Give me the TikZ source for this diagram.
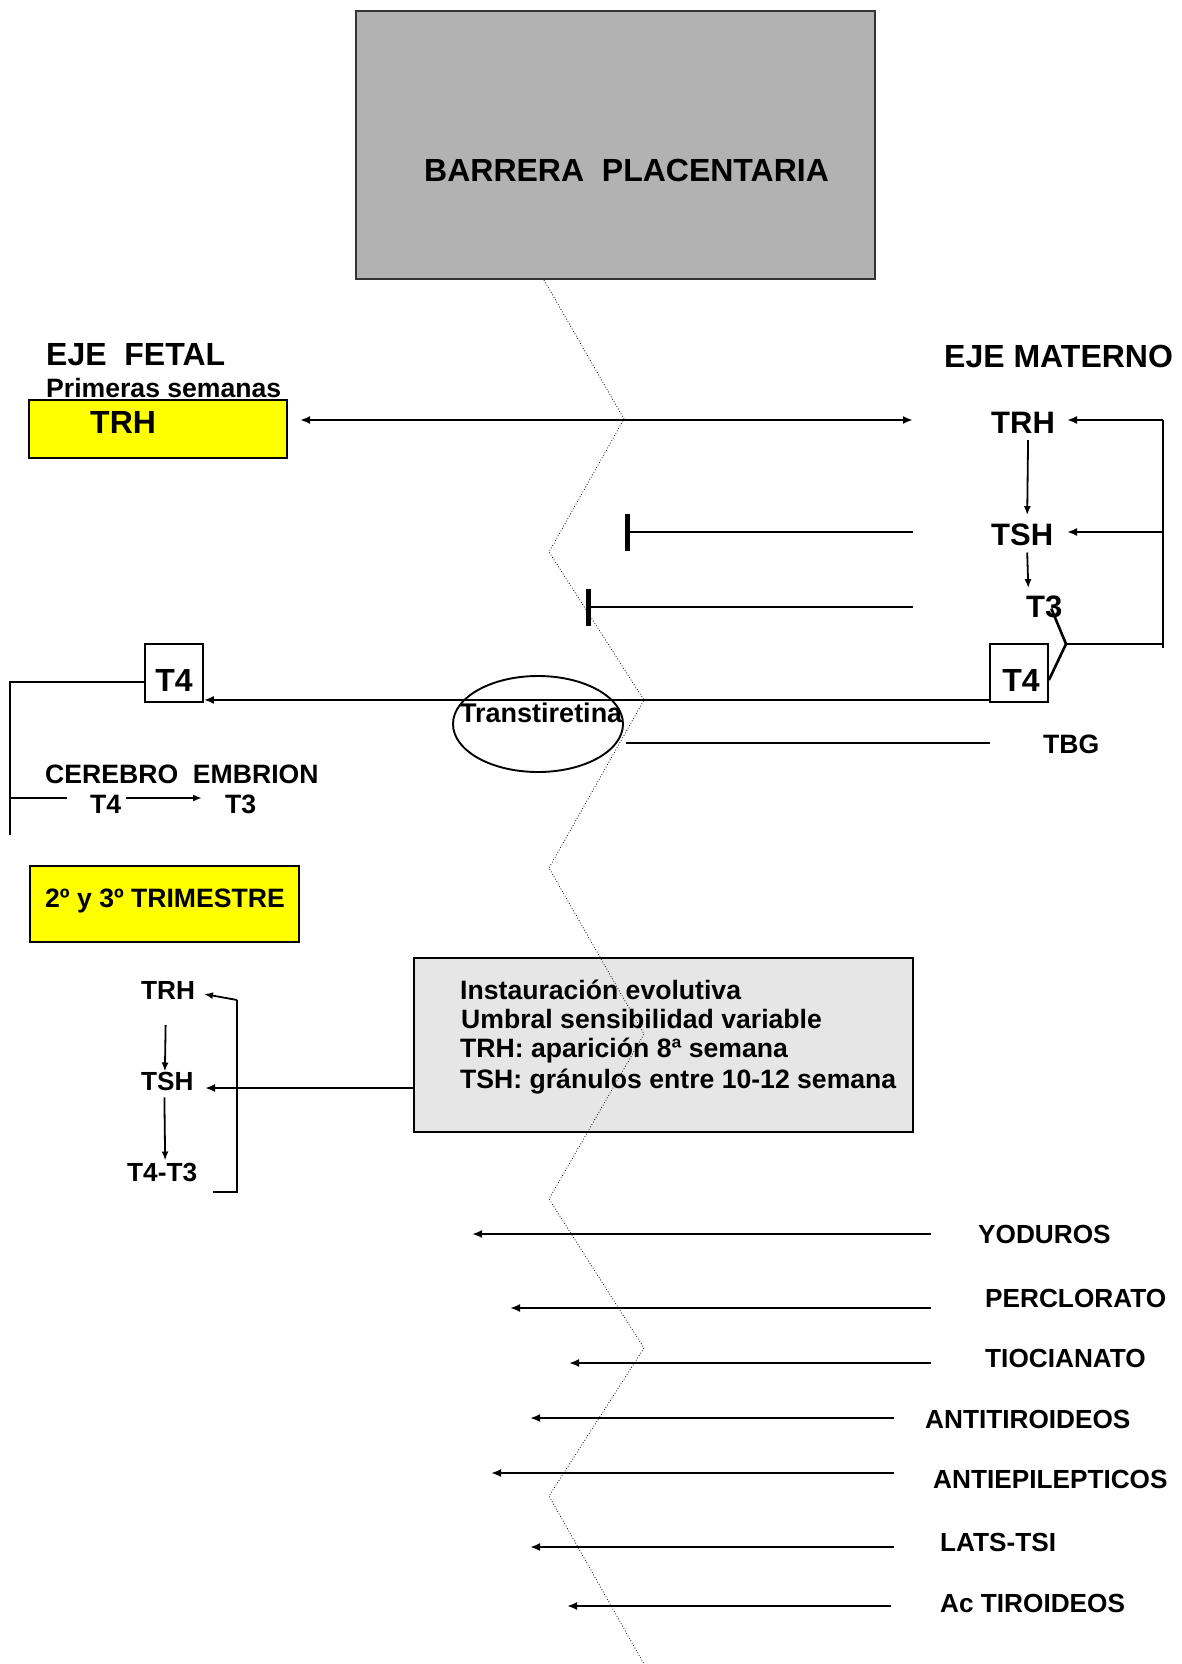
\documentclass[tikz,border=0pt]{standalone}
\usepackage{fontspec}
\setmainfont{Liberation Sans}
\usetikzlibrary{arrows.meta,shapes.geometric}
\definecolor{barrera}{HTML}{B2B2B2}
\definecolor{infogray}{HTML}{E6E6E6}
\definecolor{pureyellow}{HTML}{FFFF00}
\newcommand{\fsz}[1]{\fontsize{#1}{#1}\selectfont\bfseries}
\begin{document}
\begin{tikzpicture}[x=1pt,y=-1pt,
  txt/.style={inner sep=0pt, anchor=base west, font=\fsz{26.6}},
  drug/.style={inner sep=0pt, anchor=base west, font=\fsz{26.2}},
  big/.style={inner sep=0pt, anchor=base west, font=\fsz{32}},
  arr/.style={line width=2.6pt, -{Latex[length=10pt,width=8pt]}},
  tarr/.style={line width=1.8pt, -{Latex[length=9pt,width=7pt]}},
  ln/.style={line width=2.6pt},
  tln/.style={line width=1.8pt},
  inhib/.style={line width=2.6pt, -{Bar[width=37pt,line width=4.5pt]}},
  yellowbox/.style={draw, line width=2.4pt, fill=pureyellow, inner sep=0pt},
  smallbox/.style={draw, line width=1.8pt, fill=white, inner sep=0pt, minimum width=58pt, minimum height=58pt},
  zig/.style={dotted, line width=0.8pt, black}
]
\useasboundingbox (0,0) rectangle (1181,1664);

% ---------- boxes ----------
\node[draw=black!80, line width=1.5pt, fill=barrera, minimum width=519pt, minimum height=268pt, inner sep=0pt] (barrera) at (615.5,145) {};
\node[draw, line width=2.4pt, fill=infogray, minimum width=499pt, minimum height=174pt, inner sep=0pt] (info) at (663.5,1045) {};
\node[yellowbox, minimum width=258pt, minimum height=58pt] (trhfbox) at (158,429) {};
\node[yellowbox, minimum width=269pt, minimum height=76pt] (trimbox) at (164.5,904) {};
\node[smallbox] (t4fbox) at (174,673) {};
\node[smallbox] (t4mbox) at (1019,673) {};

% ---------- placental zigzag ----------
\coordinate (z0) at (544,280);
\coordinate (z1) at (624,419);
\coordinate (z2) at (549,552);
\coordinate (z3) at (644,700);
\coordinate (z4) at (549,868);
\coordinate (z5) at (644,1034);
\coordinate (z6) at (549,1199);
\coordinate (z7) at (644,1348);
\coordinate (z8) at (549,1496);
\coordinate (z9) at (644,1664);
\draw[zig] (z0) -- (z1) -- (z2) -- (z3) -- (z4) -- (z5) -- (z6) -- (z7) -- (z8) -- (z9);

% ---------- texts ----------
\node[inner sep=0pt, anchor=base west, font=\fsz{32}] (barreratxt) at (424,182) {BARRERA\ \ PLACENTARIA};
\node[big] (ejefetal) at (46,365) {EJE\ \ FETAL};
\node[txt] (primeras) at (46,397) {Primeras semanas};
\node[big] (trhf) at (90,433) {TRH};
\node[big] (ejemat) at (944,367) {EJE MATERNO};
\node[inner sep=0pt, anchor=base west, font=\fsz{31}] (trhm) at (991,433) {TRH};
\node[inner sep=0pt, anchor=base west, font=\fsz{31}] (tshm) at (991,545) {TSH};
\node[inner sep=0pt, anchor=base west, font=\fsz{31}] (t3m) at (1026,617) {T3};
\node[inner sep=0pt, anchor=base, font=\fsz{32}] (t4f) at (174,691) {T4};
\node[inner sep=0pt, anchor=base, font=\fsz{32}] (t4m) at (1021,691) {T4};
\node[draw, ellipse, line width=1.9pt, minimum width=170pt, minimum height=96pt, inner sep=0pt] (ttr) at (538,724) {};
\node[inner sep=0pt, anchor=base west, font=\fsz{27}] (ttrtxt) at (460,722) {Transtiretina};
\node[txt] (tbg) at (1043,753) {TBG};
\node[txt] (cerebro) at (45,783) {CEREBRO\ \ EMBRION};
\node[txt] (ct4) at (90,813) {T4};
\node[txt] (ct3) at (225,813) {T3};
\node[txt] (trim) at (45,907) {2º y 3º TRIMESTRE};
\node[drug] (trhl) at (141,999) {TRH};
\node[drug] (tshl) at (141,1090) {TSH};
\node[drug] (t43) at (127,1181) {T4-T3};
\node[txt] (info1) at (460,999) {Instauración evolutiva};
\node[txt] (info2) at (461,1028) {Umbral sensibilidad variable};
\node[txt] (info3) at (460,1057) {TRH: aparición 8ª semana};
\node[txt] (info4) at (460,1088) {TSH: gránulos entre 10-12 semana};
\node[drug] (yod) at (978,1243) {YODUROS};
\node[drug] (per) at (985,1307) {PERCLORATO};
\node[drug] (tio) at (985,1367) {TIOCIANATO};
\node[drug] (ati) at (925,1428) {ANTITIROIDEOS};
\node[drug] (aep) at (933,1488) {ANTIEPILEPTICOS};
\node[drug] (lats) at (940,1551) {LATS-TSI};
\node[drug] (act) at (940,1612) {Ac TIROIDEOS};

% ---------- first weeks ----------
\coordinate (dbl1) at (300,420);
\coordinate (dbl2) at (913,420);
\draw[line width=2.6pt, {Latex[length=10pt,width=8pt]}-{Latex[length=10pt,width=8pt]}] (dbl1) -- (dbl2);

% maternal axis
\draw[tarr] ([xshift=5pt,yshift=-7pt]trhm.south) -- ([xshift=5pt,yshift=8pt]tshm.north);
\draw[tarr] ([xshift=5pt,yshift=-7pt]tshm.south) -- ([xshift=-16pt,yshift=7pt]t3m.north);
\coordinate (fbtop) at (1163,420);
\coordinate (fbmid) at (1163,532);
\coordinate (fbbot) at (1163,648);
\coordinate (fbjoin) at (1066,644);
\coordinate (fbtrh) at (1067,420);
\coordinate (fbtsh) at (1067,532);
\draw[ln] (fbtop) -- (fbbot);
\draw[arr] (fbtop) -- (fbtrh);
\draw[arr] (fbmid) -- (fbtsh);
\draw[ln] (fbjoin) -- (fbjoin -| fbtop);
\draw[ln] (fbjoin) -- ([xshift=7pt,yshift=9pt]t3m.south);
\draw[ln] (fbjoin) -- ([yshift=-7pt]t4mbox.east);

% inhibitions
\coordinate (inh1s) at (913,532);
\coordinate (inh1) at (625,532);
\coordinate (inh2s) at (913,607);
\coordinate (inh2) at (586,607);
\draw[inhib] (inh1s) -- (inh1);
\draw[inhib] (inh2s) -- (inh2);

% T4 transfer
\draw[arr] ([yshift=3pt]t4mbox.south west) -- ([yshift=3pt]t4fbox.south east);
\coordinate (tbgs) at (990,743);
\coordinate (tbgend) at (626,743);
\draw[ln] (tbgs) -- (tbgend);

% fetal brain
\coordinate (fl) at (10,835);
\coordinate (fstub) at (10,798);
\coordinate (fstubend) at (67,798);
\draw[ln] ([yshift=-9pt]t4fbox.west) -| (fl);
\draw[ln] (fstub) -- (fstubend);
\draw[tarr] ([xshift=5pt]ct4.east |- fstub) -- ([xshift=-23pt]ct3.west |- fstub);

% second/third trimester
\draw[tarr] ([xshift=-2.5pt,yshift=-26pt]trhl.south) -- ([xshift=-2.5pt]tshl.north);
\draw[tarr] ([xshift=-3pt,yshift=-7pt]tshl.south) -- ([xshift=3pt,yshift=2pt]t43.north);
\coordinate (lbt) at (237,1000);
\coordinate (lbb) at (237,1192);
\coordinate (lbe) at (213,1192);
\coordinate (lbtip) at (204,994);
\draw[tln] (lbt) -- (lbb) -- (lbe);
\draw[tarr] (lbt) -- (lbtip);
\coordinate (infoout) at (414,1088);
\coordinate (tshtip) at (205,1088);
\draw[arr] (infoout) -- (tshtip);

% substances crossing
\coordinate (yods) at (931,1234);   \coordinate (yodt) at (472,1234);
\coordinate (pers) at (931,1308);   \coordinate (pert) at (510,1308);
\coordinate (tios) at (931,1363);   \coordinate (tiot) at (569,1363);
\coordinate (atis) at (894,1418);   \coordinate (atit) at (530,1418);
\coordinate (aeps) at (894,1473);   \coordinate (aept) at (491,1473);
\coordinate (latss) at (894,1547);  \coordinate (latst) at (530,1547);
\coordinate (acts) at (891,1606);   \coordinate (actt) at (567,1606);
\draw[arr] (yods) -- (yodt);
\draw[arr] (pers) -- (pert);
\draw[arr] (tios) -- (tiot);
\draw[arr] (atis) -- (atit);
\draw[arr] (aeps) -- (aept);
\draw[arr] (latss) -- (latst);
\draw[arr] (acts) -- (actt);
\end{tikzpicture}
\end{document}
